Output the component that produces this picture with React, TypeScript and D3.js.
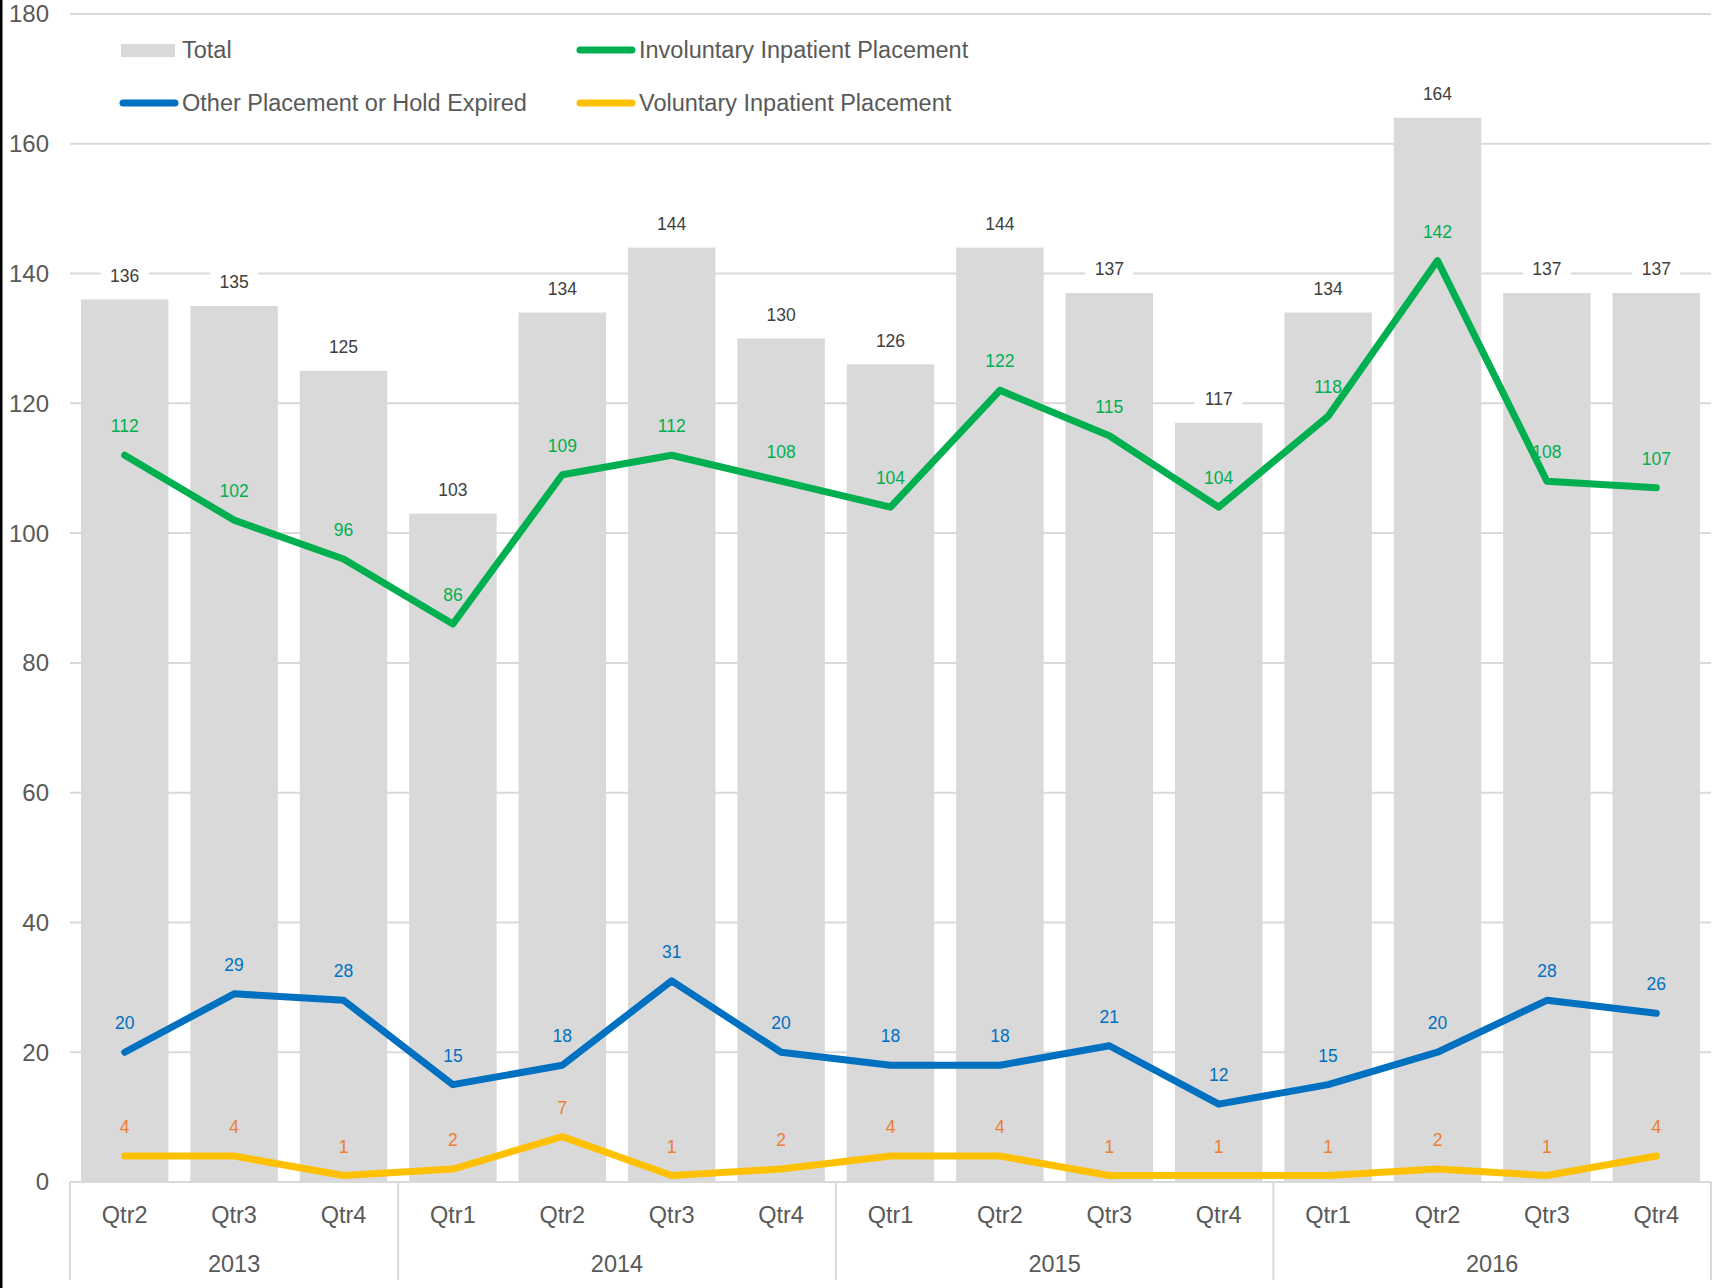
import React, { useEffect } from "react";
import * as d3 from "d3";

const quarters = ["Qtr2","Qtr3","Qtr4","Qtr1","Qtr2","Qtr3","Qtr4","Qtr1","Qtr2","Qtr3","Qtr4","Qtr1","Qtr2","Qtr3","Qtr4"];
const years = ["2013","2014","2015","2016"];
const yearCounts = [3, 4, 4, 4];
const total = [136,135,125,103,134,144,130,126,144,137,117,134,164,137,137];
const involuntary = [112,102,96,86,109,112,108,104,122,115,104,118,142,108,107];
const other = [20,29,28,15,18,31,20,18,18,21,12,15,20,28,26];
const voluntary = [4,4,1,2,7,1,2,4,4,1,1,1,2,1,4];
const yTicks = [0,20,40,60,80,100,120,140,160,180];

const W = 1716, H = 1288;
const FONT = "'Liberation Sans', Arial, sans-serif";

export default function App() {
  useEffect(() => { document.body.style.margin = "0"; }, []);
  const idx = quarters.map((_, i) => i);
  const x = d3.scaleBand<number>().domain(idx).range([70, 1711]).paddingInner(0.2).paddingOuter(0.1);
  const step = x.step();
  const y = d3.scaleLinear().domain([0, 180]).range([1182, 14]);
  const cx = (i: number) => (x(i) as number) + x.bandwidth() / 2;
  const line = d3.line<number>().x((_, i) => cx(i)).y(d => y(d));

  const series = [
    { name: "Involuntary Inpatient Placement", data: involuntary, color: "#00b050", label: "#00b050" },
    { name: "Other Placement or Hold Expired", data: other, color: "#0070c0", label: "#0070c0" },
    { name: "Voluntary Inpatient Placement", data: voluntary, color: "#ffc000", label: "#ed7d31" },
  ];

  const bounds: number[] = [0];
  yearCounts.forEach(c => bounds.push(bounds[bounds.length - 1] + c));
  const left = 70;
  const bx = (k: number) => left + k * step;

  return (
    <svg width={W} height={H} style={{ display: "block", background: "#fff" }} fontFamily={FONT}>
      <rect x={0} y={0} width={W} height={H} fill="#fff" />
      <rect x={0} y={0} width={2.5} height={H} fill="#000" />
      {yTicks.map(t => (
        <g key={t}>
          {t > 0 && <line x1={70} x2={1711} y1={y(t)} y2={y(t)} stroke="#d9d9d9" strokeWidth={2} />}
          <text x={49} y={y(t)} dy="0.35em" textAnchor="end" fontSize={24} fill="#595959">{t}</text>
        </g>
      ))}
      {total.map((v, i) => (
        <rect key={i} x={x(i)} y={y(v)} width={x.bandwidth()} height={y(0) - y(v)} fill="#d9d9d9" />
      ))}
      <line x1={70} x2={1711} y1={y(0)} y2={y(0)} stroke="#d9d9d9" strokeWidth={2} />
      {bounds.map((b, k) => (
        <line key={k} x1={bx(b)} x2={bx(b)} y1={y(0)} y2={1280} stroke="#d9d9d9" strokeWidth={2} />
      ))}
      {quarters.map((q, i) => (
        <text key={i} x={cx(i)} y={1215} dy="0.35em" textAnchor="middle" fontSize={23.5} fill="#595959">{q}</text>
      ))}
      {years.map((yr, k) => (
        <text key={yr} x={(bx(bounds[k]) + bx(bounds[k + 1])) / 2} y={1264} dy="0.35em" textAnchor="middle" fontSize={23.5} fill="#595959">{yr}</text>
      ))}
      {total.map((v, i) => (
        <g key={i}>
          <rect x={cx(i) - 24} y={y(v) - 24 - 12} width={48} height={24} fill="#fff" />
          <text x={cx(i)} y={y(v) - 24} dy="0.35em" textAnchor="middle" fontSize={17.5} fill="#404040">{v}</text>
        </g>
      ))}
      {series.map(s => (
        <g key={s.name}>
          {s.data.map((v, i) => (
            <text key={i} x={cx(i)} y={y(v) - 29} dy="0.35em" textAnchor="middle" fontSize={17.5} fill={s.label}>{v}</text>
          ))}
        </g>
      ))}
      {series.map(s => (
        <path key={s.name} d={line(s.data) || ""} fill="none" stroke={s.color} strokeWidth={7} strokeLinecap="round" strokeLinejoin="round" />
      ))}
      <rect x={121} y={44} width={54} height={13} fill="#d9d9d9" />
      <text x={182} y={50} dy="0.35em" fontSize={23.5} fill="#595959">Total</text>
      <line x1={123} x2={175} y1={103} y2={103} stroke="#0070c0" strokeWidth={7} strokeLinecap="round" />
      <text x={182} y={103} dy="0.35em" fontSize={23.5} fill="#595959">{series[1].name}</text>
      <line x1={580} x2={632} y1={50} y2={50} stroke="#00b050" strokeWidth={7} strokeLinecap="round" />
      <text x={639} y={50} dy="0.35em" fontSize={23.5} fill="#595959">{series[0].name}</text>
      <line x1={580} x2={632} y1={103} y2={103} stroke="#ffc000" strokeWidth={7} strokeLinecap="round" />
      <text x={639} y={103} dy="0.35em" fontSize={23.5} fill="#595959">{series[2].name}</text>
    </svg>
  );
}
